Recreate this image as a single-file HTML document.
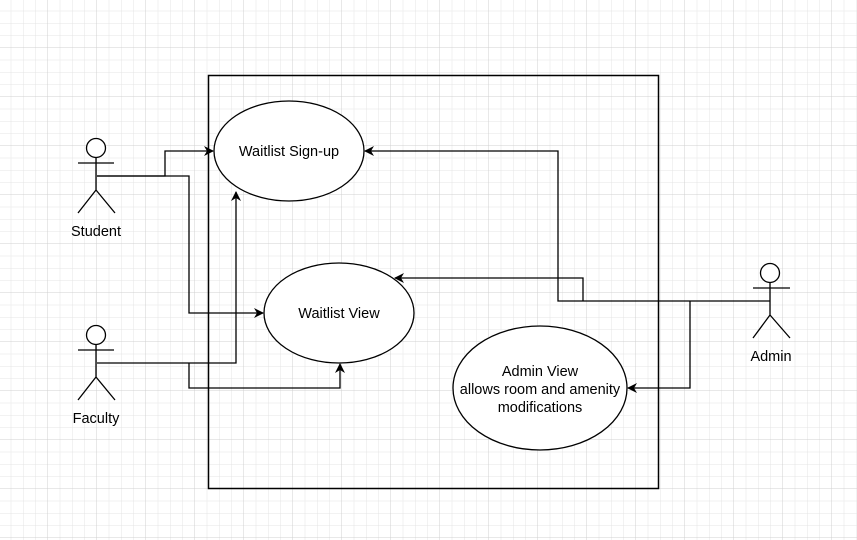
<!DOCTYPE html>
<html><head><meta charset="utf-8"><style>
html,body{margin:0;padding:0;background:#fff;}
svg{display:block;}
text{font-family:"Liberation Sans",Arial,sans-serif;font-size:14.5px;fill:#000;}
</style></head><body>
<svg width="857" height="540" viewBox="0 0 857 540" xmlns="http://www.w3.org/2000/svg">
<defs>
<pattern id="g" width="12.25" height="12.25" patternUnits="userSpaceOnUse" x="-1" y="-1">
<path d="M12.25 0V12.25M0 12.25H12.25" stroke="#e4e4e4" stroke-width="1" fill="none"/>
</pattern>
<pattern id="G" width="49" height="49" patternUnits="userSpaceOnUse" x="-1" y="-1">
<path d="M49 0V49M0 49H49" stroke="#d0d0d0" stroke-width="1" fill="none"/>
</pattern>
<marker id="a" markerWidth="10" markerHeight="10" refX="9" refY="5" orient="auto" markerUnits="userSpaceOnUse">
<path d="M0,0 L10,5 L0,10 L3,5 Z" fill="#000"/>
</marker>
</defs>
<rect width="857" height="540" fill="url(#g)"/>
<rect width="857" height="540" fill="url(#G)"/>
<rect x="208.5" y="75.5" width="450" height="413" fill="none" stroke="#000" stroke-width="1.5"/>
<g fill="#fff" stroke="#000" stroke-width="1.3">
<ellipse cx="289" cy="151" rx="75" ry="50"/>
<ellipse cx="339" cy="313" rx="75" ry="50"/>
<ellipse cx="540" cy="388" rx="87" ry="62"/>
</g>
<g fill="none" stroke="#000" stroke-width="1.3">
<polyline points="97,176 165,176 165,151 213,151" marker-end="url(#a)"/>
<polyline points="97,176 189,176 189,313 263,313" marker-end="url(#a)"/>
<polyline points="97,363 236,363 236,192" marker-end="url(#a)"/>
<polyline points="189,363 189,388 340,388 340,364" marker-end="url(#a)"/>
<polyline points="770,301 558,301 558,151 365,151" marker-end="url(#a)"/>
<polyline points="583,301 583,278 395,278" marker-end="url(#a)"/>
<polyline points="690,301 690,388 628,388" marker-end="url(#a)"/>
</g>
<g fill="#fff" stroke="#000" stroke-width="1.3">
<circle cx="96" cy="148" r="9.5"/>
<path d="M96 158V190M78 163H114M96 190L78 213M96 190L115 213" fill="none"/>
<circle cx="96" cy="335" r="9.5"/>
<path d="M96 345V377M78 350H114M96 377L78 400M96 377L115 400" fill="none"/>
<circle cx="770" cy="273" r="9.5"/>
<path d="M770 283V315M753 288H790M770 315L753 338M770 315L790 338" fill="none"/>
</g>
<text x="96" y="236" text-anchor="middle">Student</text>
<text x="96" y="423" text-anchor="middle">Faculty</text>
<text x="771" y="361" text-anchor="middle">Admin</text>
<text x="289" y="156" text-anchor="middle">Waitlist Sign-up</text>
<text x="339" y="318" text-anchor="middle">Waitlist View</text>
<text x="540" y="376" text-anchor="middle">Admin View</text>
<text x="540" y="394" text-anchor="middle">allows room and amenity</text>
<text x="540" y="412" text-anchor="middle">modifications</text>
</svg>
</body></html>
